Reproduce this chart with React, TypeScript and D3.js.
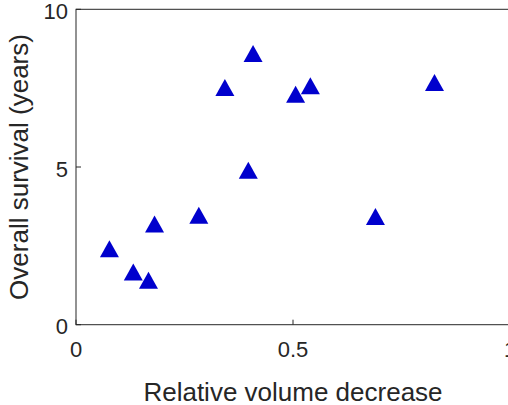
import React from "react";
import * as d3 from "d3";

const relVolumeDecrease = [0.077, 0.132, 0.167, 0.181, 0.283, 0.343, 0.397, 0.408, 0.506, 0.54, 0.69, 0.826];
const survivalYears = [2.41, 1.67, 1.41, 3.19, 3.47, 7.52, 4.9, 8.6, 7.31, 7.58, 3.43, 7.68];
const xTicks = [0, 0.5, 1];
const yTicks = [0, 5, 10];
const xTickLabels = ["0", "0.5", "1"];
const yTickLabels = ["0", "5", "10"];

const W = 508;
const H = 405;
const left = 76;
const right = 510;
const top = 9.3;
const bottom = 324.7;
const ink = "#262626";
const font = "'Liberation Sans', Arial, Helvetica, sans-serif";

export default function App() {
  const x = d3.scaleLinear().domain([0, 1]).range([left, right]);
  const y = d3.scaleLinear().domain([0, 10]).range([bottom, top]);
  const tri = "M0,-8.5L9.5,8.5L-9.5,8.5Z";
  return (
    <svg width={W} height={H} style={{ position: "absolute", left: 0, top: 0, background: "#fff" }}>
      <rect x={0} y={0} width={W} height={H} fill="#fff" />
      {relVolumeDecrease.map((v, i) => (
        <path key={i} d={tri} transform={`translate(${x(v)},${y(survivalYears[i])})`} fill="#0000CD" />
      ))}
      <rect x={left} y={top} width={right - left} height={bottom - top} fill="none" stroke={ink} strokeWidth={1} />
      {xTicks.map((t, i) => (
        <g key={"x" + i}>
          <line x1={x(t)} x2={x(t)} y1={bottom} y2={bottom - 5} stroke={ink} />
          <text x={x(t)} y={357} textAnchor="middle" fontFamily={font} fontSize={22} fill={ink}>
            {xTickLabels[i]}
          </text>
        </g>
      ))}
      {yTicks.map((t, i) => (
        <g key={"y" + i}>
          <line x1={left} x2={left + 5} y1={y(t)} y2={y(t)} stroke={ink} />
          <text x={68} y={y(t) + 2} textAnchor="end" dominantBaseline="central" fontFamily={font} fontSize={22} fill={ink}>
            {yTickLabels[i]}
          </text>
        </g>
      ))}
      <text x={(left + right) / 2} y={401} textAnchor="middle" fontFamily={font} fontSize={26} fill={ink}>
        Relative volume decrease
      </text>
      <text
        transform={`translate(28,${(top + bottom) / 2}) rotate(-90)`}
        textAnchor="middle"
        fontFamily={font}
        fontSize={26}
        fill={ink}
      >
        Overall survival (years)
      </text>
    </svg>
  );
}
